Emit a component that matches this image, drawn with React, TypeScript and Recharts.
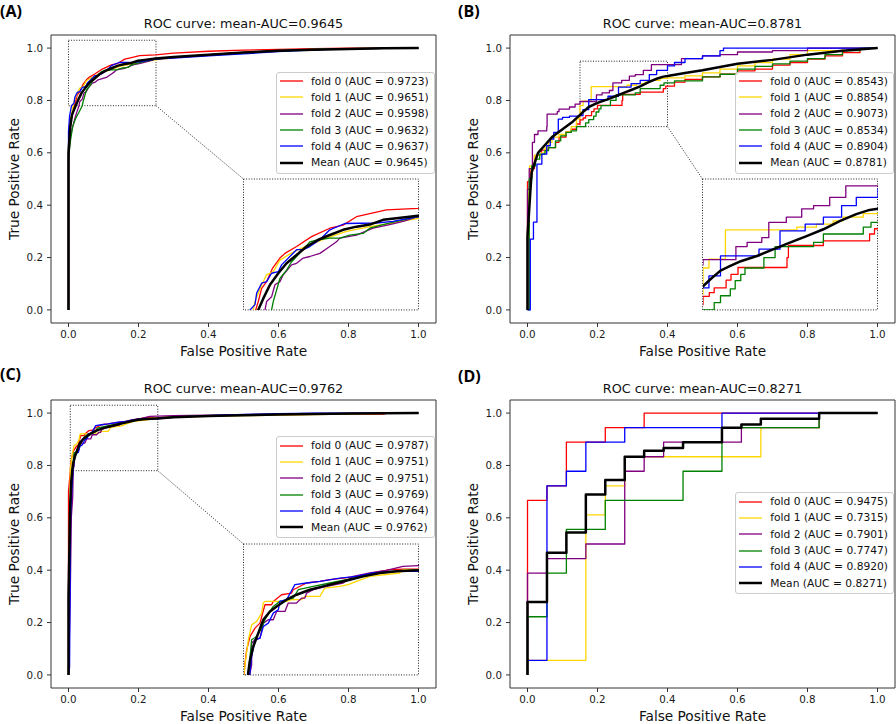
import React from 'react';
import { LineChart, Line, XAxis, YAxis, ReferenceArea, ReferenceLine } from 'recharts';

type P = [number, number];

const SERIES_NAMES = ['fold 0', 'fold 1', 'fold 2', 'fold 3', 'fold 4', 'Mean'];
const SERIES_COLORS = ['#ff0000', '#ffd700', '#800080', '#008000', '#0000ff', '#000000'];
const AXIS_TICKS = [0, 0.2, 0.4, 0.6, 0.8, 1.0];
const PANEL_LABELS = ['(A)', '(B)', '(C)', '(D)'];
const X_LABEL = 'False Positive Rate';
const Y_LABEL = 'True Positive Rate';

const A_AUC = [0.9723, 0.9651, 0.9598, 0.9632, 0.9637, 0.9645];
const B_AUC = [0.8543, 0.8854, 0.9073, 0.8534, 0.8904, 0.8781];
const C_AUC = [0.9787, 0.9751, 0.9751, 0.9769, 0.9764, 0.9762];
const D_AUC = [0.9475, 0.7315, 0.7901, 0.7747, 0.8920, 0.8271];

// ---------- Panel A (fpr, tpr) ----------
const A_FOLD0: P[] = [[0,0],[0,.55],[.004,.68],[.01,.75],[.0204,.796],[.0252,.821],[.0323,.834],[.0409,.86],[.0513,.879],[.0585,.888],[.0751,.901],[.0965,.92],[.1226,.936],[.1416,.942],[.1607,.958],[.1797,.964],[.2034,.971],[.2486,.974],[.3,.981],[.4,.988],[.5,.992],[.6,.995],[.7,.998],[.8,1],[1,1]];
const A_FOLD1: P[] = [[0,0],[0,.62],[.005,.72],[.01,.76],[.0157,.796],[.0252,.828],[.0323,.847],[.0418,.853],[.0513,.875],[.0632,.885],[.0775,.895],[.0941,.904],[.1179,.917],[.1464,.93],[.1797,.939],[.2082,.945],[.2486,.955],[.3,.963],[.4,.973],[.5,.982],[.6,.99],[.7,.995],[.8,.998],[1,1]];
const A_FOLD2: P[] = [[0,0],[0,.6],[.005,.66],[.012,.7],[.02,.74],[.03,.78],[.0323,.796],[.0394,.805],[.0442,.828],[.0513,.834],[.0561,.847],[.068,.866],[.0751,.869],[.0846,.879],[.0941,.882],[.1084,.888],[.1226,.901],[.1321,.91],[.1369,.917],[.1607,.923],[.1844,.936],[.2082,.943],[.2272,.949],[.2486,.958],[.3,.965],[.4,.975],[.5,.984],[.6,.99],[.7,.995],[.8,.998],[1,1]];
const A_FOLD3: P[] = [[0,0],[0,.58],[.006,.65],[.012,.7],[.02,.73],[.03,.755],[.0394,.78],[.0418,.796],[.0466,.818],[.0513,.84],[.0608,.856],[.068,.872],[.0751,.882],[.0941,.91],[.106,.914],[.1226,.917],[.1369,.917],[.1511,.923],[.1702,.926],[.1797,.936],[.1987,.943],[.2177,.949],[.2486,.958],[.3,.965],[.4,.974],[.5,.983],[.6,.99],[.7,.995],[.8,.998],[1,1]];
const A_FOLD4: P[] = [[0,0],[0,.68],[.003,.74],[.0086,.78],[.0157,.79],[.0181,.812],[.0252,.831],[.0323,.834],[.0394,.85],[.049,.853],[.0537,.866],[.0751,.895],[.0846,.895],[.0941,.901],[.1084,.914],[.1226,.933],[.144,.945],[.1892,.946],[.2129,.949],[.2486,.958],[.3,.962],[.4,.97],[.5,.978],[.6,.987],[.7,.993],[.8,.997],[.9,.999],[1,1]];
const A_MEAN: P[] = [[0,0],[0,.6],[.005,.7],[.01,.745],[.0204,.78],[.0276,.802],[.0371,.828],[.049,.85],[.0608,.869],[.0751,.885],[.0894,.901],[.106,.914],[.1226,.923],[.1416,.933],[.1607,.939],[.1797,.943],[.1987,.952],[.2177,.955],[.2486,.96],[.3,.966],[.4,.975],[.5,.983],[.6,.99],[.7,.994],[.8,.997],[.9,.999],[1,1]];

// ---------- Panel B (step points: fpr where tpr jumps, tpr after jump) ----------
const B_FOLD0: P[] = [[0,0],[0,.49],[.01,.54],[.02,.59],[.04,.61],[.06,.62],[.08,.64],[.09,.66],[.11,.68],[.125,.69],[.14,.71],[.15,.726],[.159,.733],[.166,.742],[.183,.757],[.19,.768],[.2,.781],[.27,.8],[.272,.823],[.322,.832],[.388,.845],[.395,.855],[.42,.87],[.45,.88],[.5,.89],[.55,.9],[.6,.913],[.65,.92],[.7,.935],[.75,.945],[.8,.958],[.85,.97],[.9,.983],[.95,1],[1,1]];
const B_FOLD1: P[] = [[0,0],[0,.3],[.002,.46],[.006,.55],[.02,.59],[.04,.6],[.05,.62],[.06,.64],[.07,.66],[.09,.67],[.11,.68],[.125,.7],[.14,.73],[.15,.78],[.1585,.797],[.182,.853],[.284,.858],[.312,.864],[.336,.87],[.35,.877],[.379,.884],[.4,.886],[.45,.894],[.5,.905],[.55,.92],[.6,.932],[.65,.945],[.7,.958],[.75,.975],[.8,.99],[.9,1],[1,1]];
const B_FOLD2: P[] = [[0,0],[0,.46],[.005,.54],[.014,.64],[.02,.67],[.03,.684],[.055,.7],[.056,.748],[.085,.757],[.09,.767],[.12,.775],[.136,.786],[.15,.796],[.197,.821],[.213,.829],[.234,.838],[.244,.867],[.269,.877],[.291,.893],[.308,.899],[.331,.915],[.354,.937],[.44,.96],[.5,.97],[.55,.975],[.6,.985],[.7,.99],[.8,1],[1,1]];
const B_FOLD3: P[] = [[0,0],[.005,.5],[.012,.55],[.023,.576],[.035,.595],[.05,.608],[.06,.62],[.08,.646],[.095,.665],[.11,.678],[.125,.684],[.14,.7],[.166,.714],[.175,.727],[.189,.74],[.196,.756],[.204,.768],[.21,.78],[.237,.8],[.253,.821],[.308,.829],[.322,.845],[.379,.858],[.39,.867],[.42,.875],[.5,.89],[.55,.9],[.6,.92],[.65,.93],[.7,.94],[.75,.95],[.8,.96],[.85,.975],[.9,.99],[.95,1],[1,1]];
const B_FOLD4: P[] = [[0,0],[.008,.207],[.008,.27],[.017,.335],[.027,.557],[.041,.595],[.055,.627],[.065,.652],[.075,.678],[.088,.729],[.1,.735],[.12,.74],[.145,.742],[.1585,.765],[.175,.803],[.23,.816],[.26,.851],[.296,.864],[.322,.877],[.348,.899],[.369,.915],[.4,.932],[.42,.945],[.45,.96],[.5,.97],[.55,.99],[.56,1],[1,1]];
const B_MEAN: P[] = [[0,0],[0,.28],[.008,.45],[.012,.525],[.02,.56],[.03,.6],[.05,.63],[.07,.66],[.1,.69],[.13,.72],[.15,.745],[.161,.759],[.175,.775],[.189,.784],[.204,.793],[.227,.803],[.251,.816],[.275,.829],[.298,.841],[.322,.854],[.346,.87],[.369,.883],[.388,.891],[.4,.893],[.45,.905],[.5,.915],[.55,.928],[.6,.94],[.7,.955],[.8,.975],[.9,.99],[1,1]];

// ---------- Panel C (fpr, tpr) ----------
const C_FOLD0: P[] = [[0,0],[0,.7],[.004,.76],[.0064,.8023],[.0088,.8279],[.0136,.8534],[.0207,.8693],[.0278,.8789],[.0349,.914],[.0444,.914],[.0468,.9204],[.0587,.9331],[.073,.9363],[.0753,.9427],[.0944,.9555],[.1134,.9586],[.1276,.9618],[.1466,.965],[.1656,.9682],[.1894,.9746],[.2132,.981],[.2322,.9822],[.2536,.9822],[.3,.985],[.4,.99],[.5,.992],[.7,.995],[.9,.996],[.91,1],[1,1]];
const C_FOLD1: P[] = [[0,0],[.002,.2],[.004,.5],[.005,.75],[.005,.7832],[.0079,.8151],[.0112,.847],[.0159,.8757],[.0231,.8821],[.0302,.898],[.0326,.9172],[.0349,.9204],[.0658,.9204],[.073,.9236],[.0872,.9236],[.092,.9299],[.1134,.9299],[.1205,.9459],[.1419,.9491],[.1538,.9523],[.1656,.9586],[.1847,.9682],[.2274,.9746],[.2322,.981],[.2536,.981],[.3,.984],[.4,.988],[.5,.99],[.6,.992],[.8,.996],[.9,.999],[1,1]];
const C_FOLD2: P[] = [[0,0],[.005,.3],[.008,.6],[.012,.68],[.013,.75],[.0136,.7832],[.0159,.7991],[.0159,.8406],[.0207,.847],[.0278,.8502],[.0326,.8789],[.0397,.8853],[.0468,.8853],[.0516,.9012],[.0635,.9012],[.0682,.9172],[.0801,.9172],[.0872,.9267],[.092,.9267],[.0944,.9363],[.1039,.9427],[.1229,.9491],[.1466,.9555],[.1609,.9682],[.1847,.9746],[.2084,.9797],[.2322,.9874],[.2536,.9886],[.3,.99],[.4,.992],[.6,.995],[.8,.998],[1,1]];
const C_FOLD3: P[] = [[0,0],[.002,.3],[.003,.62],[.008,.72],[.01,.76],[.0112,.7832],[.0136,.8151],[.0159,.847],[.0231,.8534],[.0302,.8693],[.0349,.8853],[.0421,.9012],[.0468,.9108],[.0563,.9204],[.0753,.9267],[.0825,.9427],[.1039,.9491],[.1276,.9555],[.1514,.9618],[.1752,.9682],[.1989,.9746],[.2536,.981],[.3,.985],[.4,.99],[.6,.995],[.8,.998],[1,1]];
const C_FOLD4: P[] = [[0,0],[.003,.03],[.006,.6],[.01,.72],[.012,.76],[.0136,.7864],[.0159,.8151],[.0207,.847],[.0278,.8502],[.0326,.8725],[.0397,.8789],[.0468,.898],[.054,.9044],[.0563,.9204],[.0658,.9236],[.0777,.9523],[.0944,.9555],[.1134,.9586],[.1419,.965],[.1656,.9682],[.1894,.9746],[.2132,.9778],[.2536,.9778],[.3,.984],[.4,.99],[.5,.995],[.6,.998],[.7,1],[1,1]];
const C_MEAN: P[] = [[0,0],[0,.3],[.005,.65],[.008,.74],[.0112,.7864],[.0136,.8087],[.0183,.8342],[.0254,.8598],[.0326,.8853],[.0421,.9012],[.0516,.9108],[.0658,.9236],[.0801,.9331],[.0991,.9427],[.1181,.9491],[.1371,.9555],[.1561,.9618],[.1752,.9682],[.1989,.9746],[.2227,.9778],[.2536,.9797],[.3,.984],[.4,.989],[.5,.992],[.6,.995],[.8,.998],[1,1]];

// ---------- Panel D (step points: fpr where tpr jumps, tpr after jump) ----------
const D_FOLD0: P[] = [[0,0],[0,.6667],[.0556,.7222],[.1111,.8889],[.2222,.9444],[.3333,1],[1,1]];
const D_FOLD1: P[] = [[0,0],[0,.0556],[.1667,.6111],[.2222,.7222],[.2778,.8333],[.6667,.9444],[.8333,1],[1,1]];
const D_FOLD2: P[] = [[0,0],[0,.3889],[.0556,.4444],[.1667,.5],[.2778,.7778],[.3333,.8333],[.3889,.8889],[.6111,.9444],[.8333,1],[1,1]];
const D_FOLD3: P[] = [[0,0],[0,.2222],[.0556,.3889],[.1111,.5556],[.2222,.6667],[.4444,.7778],[.5556,.9444],[.8333,1],[1,1]];
const D_FOLD4: P[] = [[0,0],[0,.0556],[.0556,.7222],[.1111,.7778],[.1667,.8889],[.2778,.9444],[.5556,1],[1,1]];
const D_MEAN: P[] = [[0,0],[0,.278],[.0556,.467],[.1111,.544],[.1667,.689],[.2222,.744],[.2778,.833],[.3333,.856],[.3889,.867],[.4444,.889],[.5556,.944],[.6111,.956],[.6667,.978],[.8333,1],[1,1]];

// ---------- layout ----------
const FONT = '"DejaVu Sans", "Liberation Sans", sans-serif';
const PANEL_W = 448;
const PANEL_H = 362;
const PLOT_W = 385;
const PLOT_H = 288;
const Y_AXIS_W = 45;
const X_AXIS_H = 30;
const DOMAIN: [number, number] = [-0.05, 1.05];
const INSET_X: [number, number] = [0.5, 1.0];
const INSET_Y: [number, number] = [0.0, 0.5];
const FOLD_W = 1.3;
const MEAN_W = 2.5;
const DOT = '1 1.6';

type CurveType = 'linear' | 'stepAfter';
interface PanelCfg {
  label: string;
  auc: number[];
  curves: P[][];
  foldType: CurveType;
  meanType: CurveType;
  zoomX?: [number, number];
  zoomY?: [number, number];
  left: number;
  top: number;
  plotLeft: number;
  plotTop: number;
  legendLeft: number;
  legendTop: number;
  labelTop: number;
  labelLeft: number;
}

const PANELS: PanelCfg[] = [
  { label: PANEL_LABELS[0], auc: A_AUC, curves: [A_FOLD0, A_FOLD1, A_FOLD2, A_FOLD3, A_FOLD4, A_MEAN], foldType: 'linear', meanType: 'linear', zoomX: [0, 0.25], zoomY: [0.78, 1.03], left: 0, top: 0, plotLeft: 51, plotTop: 35, legendLeft: 276, legendTop: 71.5, labelTop: 0, labelLeft: 0 },
  { label: PANEL_LABELS[1], auc: B_AUC, curves: [B_FOLD0, B_FOLD1, B_FOLD2, B_FOLD3, B_FOLD4, B_MEAN], foldType: 'stepAfter', meanType: 'linear', zoomX: [0.15, 0.4], zoomY: [0.7, 0.95], left: 448, top: 0, plotLeft: 62, plotTop: 35, legendLeft: 287.3, legendTop: 71.5, labelTop: 0, labelLeft: 10 },
  { label: PANEL_LABELS[2], auc: C_AUC, curves: [C_FOLD0, C_FOLD1, C_FOLD2, C_FOLD3, C_FOLD4, C_MEAN], foldType: 'linear', meanType: 'linear', zoomX: [0.005, 0.255], zoomY: [0.78, 1.03], left: 0, top: 362, plotLeft: 51, plotTop: 38, legendLeft: 276, legendTop: 74, labelTop: 1, labelLeft: 0 },
  { label: PANEL_LABELS[3], auc: D_AUC, curves: [D_FOLD0, D_FOLD1, D_FOLD2, D_FOLD3, D_FOLD4, D_MEAN], foldType: 'stepAfter', meanType: 'stepAfter', left: 448, top: 362, plotLeft: 62, plotTop: 38, legendLeft: 287.3, legendTop: 130, labelTop: 3, labelLeft: 10 },
];

const span = DOMAIN[1] - DOMAIN[0];
const sx = (v: number) => ((v - DOMAIN[0]) / span) * PLOT_W;
const sy = (v: number) => ((DOMAIN[1] - v) / span) * PLOT_H;

function buildSeries(cfg: PanelCfg) {
  return cfg.curves.map((pts, i) => ({
    key: SERIES_NAMES[i],
    label: `${SERIES_NAMES[i]} (AUC = ${cfg.auc[i].toFixed(4)})`,
    color: SERIES_COLORS[i],
    width: i === 5 ? MEAN_W : FOLD_W,
    type: i === 5 ? cfg.meanType : cfg.foldType,
    data: pts.map(([x, y]) => ({ x, y })),
  }));
}

const tickStyle = { fontSize: 10.3, fill: '#1a1a1a', fontFamily: FONT };

function Panel({ cfg }: { cfg: PanelCfg }) {
  const series = buildSeries(cfg);
  const margin = {
    left: cfg.plotLeft - Y_AXIS_W,
    top: cfg.plotTop,
    right: PANEL_W - cfg.plotLeft - PLOT_W,
    bottom: PANEL_H - cfg.plotTop - PLOT_H - X_AXIS_H,
  };
  const hasZoom = !!(cfg.zoomX && cfg.zoomY);
  const insetLeft = cfg.plotLeft + sx(INSET_X[0]);
  const insetTop = cfg.plotTop + sy(INSET_Y[1]);
  const insetW = sx(INSET_X[1]) - sx(INSET_X[0]);
  const insetH = sy(INSET_Y[0]) - sy(INSET_Y[1]);
  const meanAuc = cfg.auc[5];

  return (
    <div style={{ position: 'absolute', left: cfg.left, top: cfg.top, width: PANEL_W, height: PANEL_H }}>
      <LineChart width={PANEL_W} height={PANEL_H} margin={margin}>
        <XAxis
          type="number"
          dataKey="x"
          domain={DOMAIN}
          allowDataOverflow
          ticks={AXIS_TICKS}
          tickFormatter={(v: number) => v.toFixed(1)}
          height={X_AXIS_H}
          axisLine={false}
          tickSize={4}
          tickMargin={4}
          tickLine={{ stroke: '#333' }}
          tick={tickStyle}
          interval={0}
        />
        <YAxis
          type="number"
          domain={DOMAIN}
          allowDataOverflow
          ticks={AXIS_TICKS}
          tickFormatter={(v: number) => v.toFixed(1)}
          width={Y_AXIS_W}
          axisLine={false}
          tickSize={4}
          tickMargin={4}
          tickLine={{ stroke: '#333' }}
          tick={tickStyle}
          interval={0}
        />
        <ReferenceArea x1={DOMAIN[0]} x2={DOMAIN[1]} y1={DOMAIN[0]} y2={DOMAIN[1]} fill="none" stroke="#333" strokeWidth={1} ifOverflow="visible" />
        {hasZoom && (
          <ReferenceArea x1={cfg.zoomX![0]} x2={cfg.zoomX![1]} y1={cfg.zoomY![0]} y2={cfg.zoomY![1]} fill="none" stroke="#222" strokeWidth={1} strokeDasharray={DOT} ifOverflow="visible" />
        )}
        {hasZoom && (
          <ReferenceArea x1={INSET_X[0]} x2={INSET_X[1]} y1={INSET_Y[0]} y2={INSET_Y[1]} fill="none" stroke="#222" strokeWidth={1} strokeDasharray={DOT} ifOverflow="visible" />
        )}
        {hasZoom && (
          <ReferenceLine
            segment={[{ x: cfg.zoomX![1], y: cfg.zoomY![0] }, { x: INSET_X[0], y: INSET_Y[1] }]}
            stroke="#222"
            strokeWidth={1}
            strokeDasharray={DOT}
            ifOverflow="visible"
          />
        )}
        {series.map((s) => (
          <Line
            key={s.key}
            data={s.data}
            dataKey="y"
            type={s.type}
            stroke={s.color}
            strokeWidth={s.width}
            strokeLinejoin="round"
            dot={false}
            activeDot={false}
            isAnimationActive={false}
          />
        ))}
      </LineChart>

      {hasZoom && (
        <div style={{ position: 'absolute', left: insetLeft, top: insetTop }}>
          <LineChart width={insetW} height={insetH} margin={{ left: 0, right: 0, top: 0, bottom: 0 }}>
            <XAxis type="number" dataKey="x" domain={cfg.zoomX} allowDataOverflow hide />
            <YAxis type="number" domain={cfg.zoomY} allowDataOverflow hide />
            {series.map((s) => (
              <Line
                key={s.key}
                data={s.data}
                dataKey="y"
                type={s.type}
                stroke={s.color}
                strokeWidth={s.width}
                strokeLinejoin="round"
                dot={false}
                activeDot={false}
                isAnimationActive={false}
              />
            ))}
          </LineChart>
        </div>
      )}

      {/* title */}
      <div style={{ position: 'absolute', left: cfg.plotLeft + PLOT_W / 2, top: cfg.plotTop - 10.8, transform: 'translate(-50%, -50%)', whiteSpace: 'nowrap', fontFamily: FONT, fontSize: 12.8, lineHeight: 1, color: '#111' }}>
        {`ROC curve: mean-AUC=${meanAuc.toFixed(4)}`}
      </div>
      {/* x label */}
      <div style={{ position: 'absolute', left: cfg.plotLeft + PLOT_W / 2, top: cfg.plotTop + PLOT_H + 28.5, transform: 'translate(-50%, -50%)', whiteSpace: 'nowrap', fontFamily: FONT, fontSize: 13.7, lineHeight: 1, color: '#111' }}>
        {X_LABEL}
      </div>
      {/* y label */}
      <div style={{ position: 'absolute', left: cfg.plotLeft - 36, top: cfg.plotTop + PLOT_H / 2, transform: 'translate(-50%, -50%) rotate(-90deg)', whiteSpace: 'nowrap', fontFamily: FONT, fontSize: 13.7, lineHeight: 1, color: '#111' }}>
        {Y_LABEL}
      </div>
      {/* panel letter */}
      <div style={{ position: 'absolute', left: cfg.labelLeft, top: cfg.labelTop, height: 22, lineHeight: '22px', fontFamily: '"Open Sans", "Liberation Sans", sans-serif', fontWeight: 700, fontSize: 16, color: '#000' }}>
        {cfg.label}
      </div>
      {/* legend */}
      <div style={{ position: 'absolute', left: cfg.legendLeft, top: cfg.legendTop, border: '1px solid #cccccc', borderRadius: 3, background: 'rgba(255,255,255,0.85)', padding: '0.5px 5px 2px 3px', fontFamily: FONT, fontSize: 10.7, color: '#111' }}>
        {series.map((s) => (
          <div key={s.key} style={{ display: 'flex', alignItems: 'center', height: 16.3, whiteSpace: 'nowrap' }}>
            <svg width={23} height={6} style={{ marginRight: 8, display: 'block' }}>
              <line x1={0} y1={3} x2={23} y2={3} stroke={s.color} strokeWidth={s.width} />
            </svg>
            <span>{s.label}</span>
          </div>
        ))}
      </div>
    </div>
  );
}

export default function App() {
  return (
    <div style={{ position: 'absolute', left: 0, top: 0, width: 896, height: 724, background: '#fff', overflow: 'hidden' }}>
      {PANELS.map((p) => (
        <Panel key={p.label} cfg={p} />
      ))}
    </div>
  );
}
